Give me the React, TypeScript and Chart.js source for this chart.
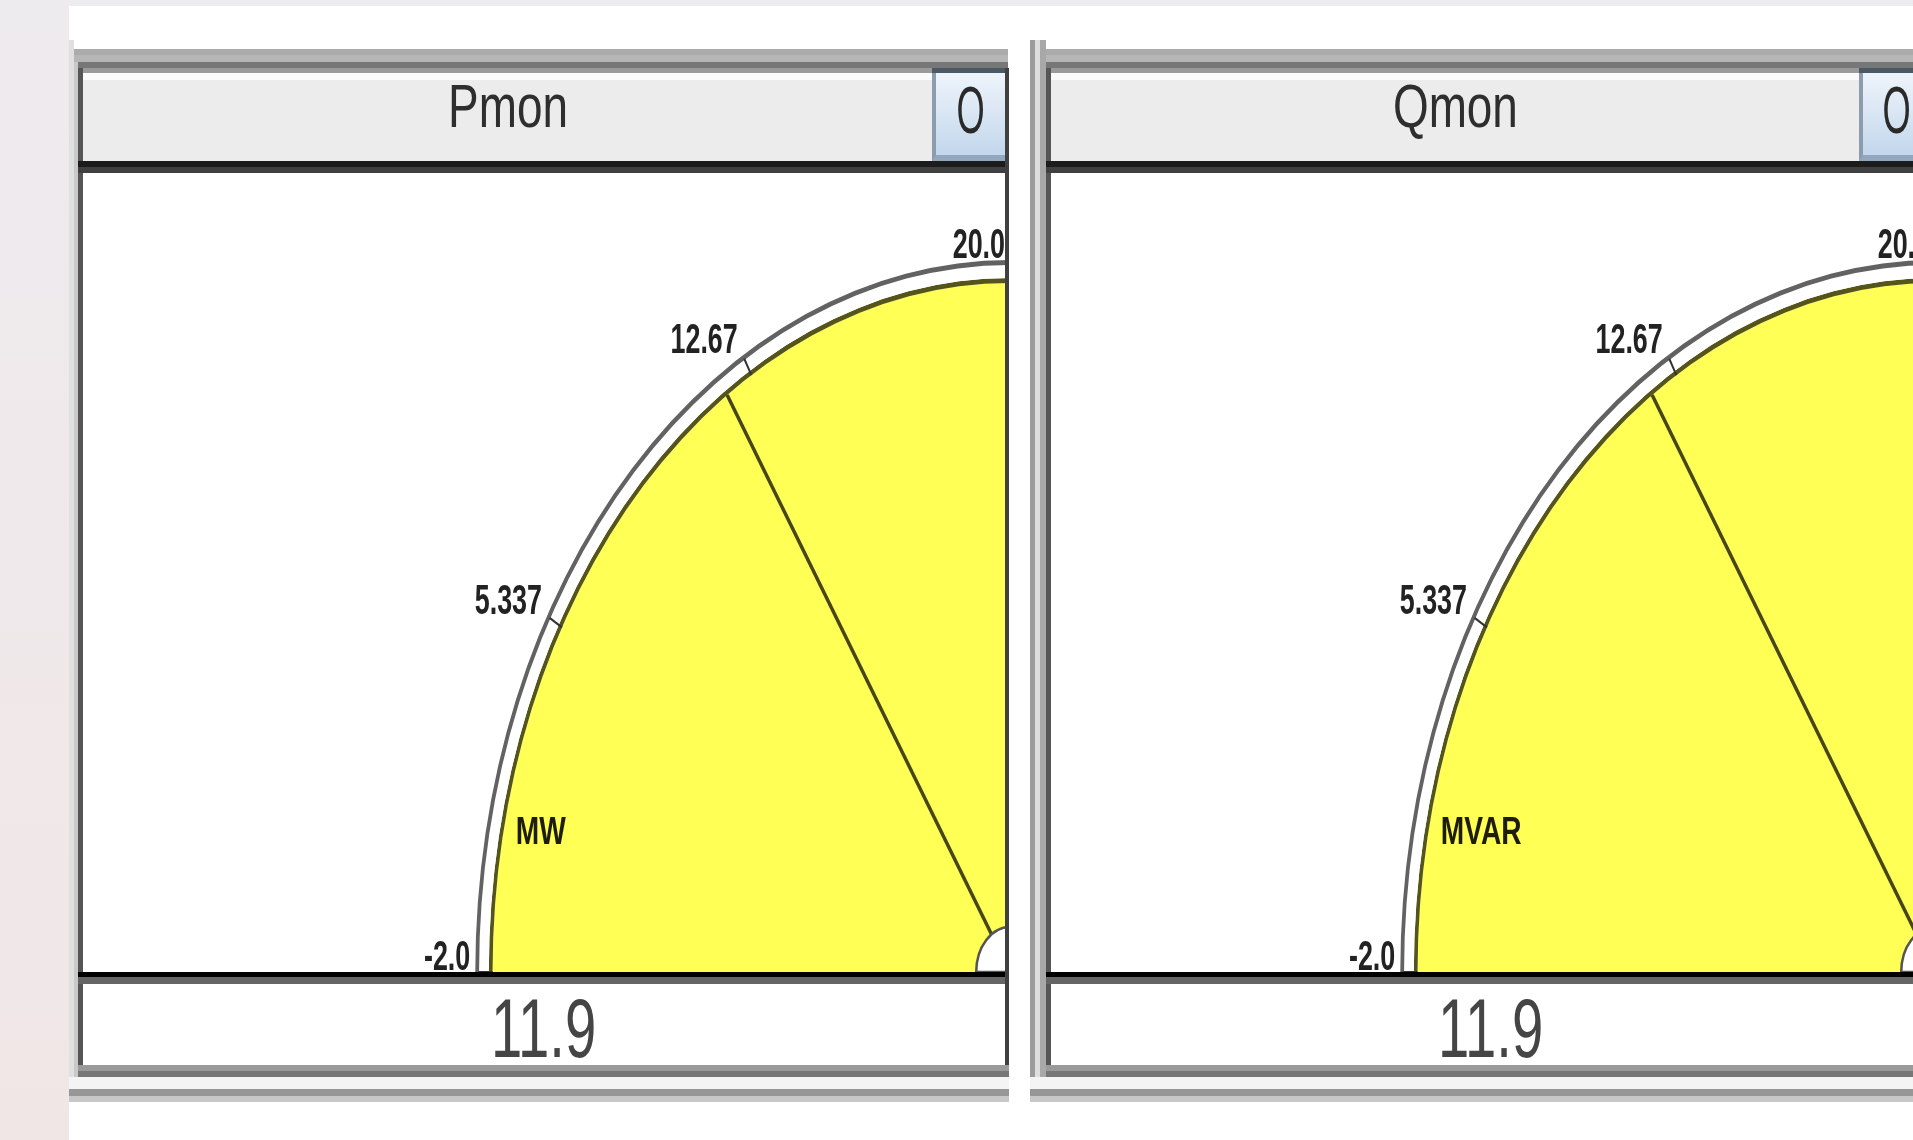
import React, { useEffect, useRef } from 'react';
import { Chart, registerables } from 'chart.js';

Chart.register(...registerables);

// ---------------- data ----------------
const PANEL_TITLES = ['Pmon', 'Qmon'];
const PANEL_UNITS = ['MW', 'MVAR'];
const PANEL_VALUES = [11.9, 11.9];
const VALUE_LABELS = ['11.9', '11.9'];
const BUTTON_LABELS = ['O', 'O'];
const GAUGE_MIN = -2.0;
const GAUGE_MAX = 42.0;
const TICK_VALUES = [-2.0, 5.337, 12.67, 20.0, 27.33, 34.67, 42.0];
const TICK_LABELS = ['-2.0', '5.337', '12.67', '20.0', '27.33', '34.67', '42.0'];

// ---------------- geometry (layout only) ----------------
const SX = 0.751; // horizontal squeeze of the gauge face
const CANVAS_W = 1440;
const CANVAS_H = 799;
const PANELS = [
  { border: 78, left: 83, right: 1005, button: 932, cx: 1010, frameLeft: 69 },
  { border: 1046, left: 1051, right: 1930, button: 1859, cx: 1935, frameLeft: 1030 },
];

const gaugePlugin: any = {
  id: 'gaugeDecor',
  beforeDatasetsDraw(chart: any) {
    const a = chart.getDatasetMeta(0).data[0];
    const ctx = chart.ctx;
    ctx.save();
    ctx.translate(a.x, a.y);
    ctx.scale(SX, 1);
    ctx.translate(-a.x, -a.y);
  },
  afterDatasetsDraw(chart: any, _args: any, opts: any) {
    const ctx = chart.ctx;
    ctx.restore();
    const a = chart.getDatasetMeta(0).data[0];
    const face = chart.getDatasetMeta(3).data[0];
    const cx = a.x;
    const cy = a.y;
    const rOut = a.outerRadius;
    const rFace = face.outerRadius;
    const ang = (v: number) => ((v - GAUGE_MIN) / (GAUGE_MAX - GAUGE_MIN)) * Math.PI;
    const pt = (v: number, r: number) => {
      const t = ang(v);
      return [cx - SX * r * Math.cos(t), cy - r * Math.sin(t)];
    };
    ctx.save();
    // tick marks (across the white gap only)
    ctx.strokeStyle = '#333333';
    ctx.lineWidth = 2;
    TICK_VALUES.forEach((v) => {
      const [x1, y1] = pt(v, rFace);
      const [x2, y2] = pt(v, rOut - 4);
      ctx.beginPath();
      ctx.moveTo(x1, y1);
      ctx.lineTo(x2, y2);
      ctx.stroke();
    });
    // tick labels
    ctx.fillStyle = '#222222';
    ctx.font = 'bold 42px "Liberation Sans", Arial, sans-serif';
    ctx.textAlign = 'right';
    ctx.textBaseline = 'alphabetic';
    TICK_VALUES.forEach((v, i) => {
      const [x, y] = pt(v, rOut);
      ctx.save();
      ctx.translate(x - 5, y - 2);
      ctx.scale(0.64, 1);
      ctx.fillText(TICK_LABELS[i], 0, 0);
      ctx.restore();
    });
    // unit
    ctx.save();
    ctx.fillStyle = '#1e1e08';
    ctx.font = 'bold 38px "Liberation Sans", Arial, sans-serif';
    ctx.textAlign = 'left';
    ctx.translate(cx - SX * rFace * 0.955, cy - rFace * 0.186);
    ctx.scale(0.74, 1);
    ctx.fillText(opts.unit, 0, 0);
    ctx.restore();
    // needle
    const [nx, ny] = pt(opts.value, rFace);
    ctx.strokeStyle = '#46461a';
    ctx.lineWidth = 3.5;
    ctx.beginPath();
    ctx.moveTo(cx, cy);
    ctx.lineTo(nx, ny);
    ctx.stroke();
    // hub
    ctx.beginPath();
    ctx.ellipse(cx, cy, 45 * SX, 45, 0, Math.PI, 2 * Math.PI);
    ctx.closePath();
    ctx.fillStyle = '#ffffff';
    ctx.fill();
    ctx.strokeStyle = '#555555';
    ctx.lineWidth = 2.5;
    ctx.stroke();
    ctx.restore();
  },
};

function Gauge({ value, unit, left }: { value: number; unit: string; left: number }) {
  const ref = useRef<HTMLCanvasElement>(null);
  useEffect(() => {
    const canvas = ref.current;
    if (!canvas) return;
    const span = GAUGE_MAX - GAUGE_MIN;
    const rings = [
      { color: '#626262', weight: 5 },
      { color: '#ffffff', weight: 13 },
      { color: '#55551a', weight: 5 },
      { color: '#ffff55', weight: 689 },
    ];
    const chart = new Chart(canvas, {
      type: 'doughnut',
      data: {
        labels: ['range'],
        datasets: rings.map((r) => ({
          data: [span],
          backgroundColor: [r.color],
          weight: r.weight,
          borderWidth: 0,
          hoverBorderWidth: 0,
          hoverOffset: 0,
        })) as any,
      },
      options: {
        responsive: false,
        animation: false,
        devicePixelRatio: 1,
        events: [],
        rotation: -90,
        circumference: 180,
        cutout: 0,
        layout: { padding: { top: 87, left: 0, right: 0, bottom: 0 } },
        plugins: {
          legend: { display: false },
          tooltip: { enabled: false },
          gaugeDecor: { value, unit },
        } as any,
      } as any,
      plugins: [gaugePlugin],
    });
    return () => chart.destroy();
  }, [value, unit]);
  return (
    <canvas
      ref={ref}
      width={CANVAS_W}
      height={CANVAS_H}
      style={{ position: 'absolute', left, top: 0, width: CANVAS_W, height: CANVAS_H }}
    />
  );
}

const Box = ({ x, y, w, h, bg }: { x: number; y: number; w: number; h: number; bg: string }) => (
  <div style={{ position: 'absolute', left: x, top: y, width: w, height: h, background: bg }} />
);

function Panel({ idx }: { idx: number }) {
  const p = PANELS[idx];
  const W = p.right - p.left;
  const titleW = p.button - p.left;
  const font = '"Liberation Sans", Arial, sans-serif';
  return (
    <>
      {/* outer frame top */}
      <Box x={p.frameLeft + 5} y={49} w={p.right + 3 - p.frameLeft - 5} h={6} bg="#ababab" />
      <Box x={p.frameLeft + 5} y={55} w={p.right + 3 - p.frameLeft - 5} h={7} bg="#b6b6b6" />
      <Box x={p.frameLeft + 5} y={62} w={p.right + 3 - p.frameLeft - 5} h={6} bg="#777777" />
      {/* outer frame left */}
      {idx === 0 ? (
        <>
          <Box x={69} y={40} w={5} h={1062} bg="#e0e0e0" />
          <Box x={74} y={62} w={4} h={1015} bg="#c9c9c9" />
        </>
      ) : (
        <>
          <Box x={1030} y={40} w={5} h={1062} bg="#9c9c9c" />
          <Box x={1035} y={40} w={5} h={1062} bg="#dedede" />
          <Box x={1040} y={40} w={6} h={1062} bg="#a8a8a8" />
        </>
      )}
      {/* inner border left / right */}
      <Box x={p.border} y={68} w={5} h={1003} bg="#555555" />
      <Box x={p.right} y={68} w={4} h={1003} bg="#404040" />
      {/* title bar */}
      <Box x={p.left} y={68} w={titleW} h={5} bg="#9a9a9a" />
      <Box x={p.left} y={73} w={titleW} h={7} bg="#fafafa" />
      <Box x={p.left} y={80} w={titleW} h={81} bg="#ececec" />
      <div
        style={{
          position: 'absolute',
          left: p.left,
          top: 75,
          width: titleW,
          height: 70,
          lineHeight: '62px',
          textAlign: 'center',
          fontFamily: font,
          fontSize: 62,
          color: '#2e2e2e',
          whiteSpace: 'nowrap',
        }}
      >
        <span style={{ display: 'inline-block', transform: 'scaleX(0.74)' }}>{PANEL_TITLES[idx]}</span>
      </div>
      {/* button */}
      <Box x={p.button} y={68} w={p.right - p.button} h={5} bg="#4b5866" />
      <div
        style={{
          position: 'absolute',
          left: p.button,
          top: 73,
          width: p.right - p.button,
          height: 88,
          background: 'linear-gradient(#eef4fb, #d4e3f2 60%, #c2d6ec)',
          borderLeft: '4px solid #8d9cac',
          boxSizing: 'border-box',
          borderBottom: '6px solid #93a8be',
        }}
      />
      <div
        style={{
          position: 'absolute',
          left: p.button + 2,
          top: 74,
          width: p.right - p.button,
          height: 80,
          lineHeight: '72px',
          textAlign: 'center',
          fontFamily: font,
          fontSize: 66,
          color: '#2a2a2a',
        }}
      >
        <span style={{ display: 'inline-block', transform: 'scaleX(0.55)' }}>{BUTTON_LABELS[idx]}</span>
      </div>
      <Box x={p.border} y={161} w={W + 5} h={6} bg="#1c1c1c" />
      <Box x={p.border} y={167} w={W + 5} h={6} bg="#404040" />
      {/* plot area */}
      <div
        style={{ position: 'absolute', left: p.left, top: 173, width: W, height: 799, overflow: 'hidden', background: '#ffffff' }}
      >
        <Gauge value={PANEL_VALUES[idx]} unit={PANEL_UNITS[idx]} left={p.cx - CANVAS_W / 2 - p.left} />
      </div>
      {/* value box */}
      <Box x={p.border} y={972} w={W + 5} h={5} bg="#000000" />
      <Box x={p.border} y={977} w={W + 5} h={7} bg="#666666" />
      <div
        style={{
          position: 'absolute',
          left: p.left,
          top: 986,
          width: W,
          height: 79,
          lineHeight: '84px',
          textAlign: 'center',
          fontFamily: font,
          fontSize: 84,
          color: '#454545',
          whiteSpace: 'nowrap',
          overflow: 'hidden',
        }}
      >
        <span style={{ display: 'inline-block', transform: 'scaleX(0.67)' }}>{VALUE_LABELS[idx]}</span>
      </div>
      {/* frame bottom */}
      <Box x={p.border} y={1065} w={W + 9} h={6} bg="#9a9a9a" />
      <Box x={p.border} y={1071} w={W + 9} h={6} bg="#777777" />
      <Box x={p.frameLeft} y={1077} w={W + 18} h={12} bg="#f4f4f4" />
      <Box x={p.frameLeft} y={1089} w={W + 18} h={7} bg="#979797" />
      <Box x={p.frameLeft} y={1096} w={W + 18} h={6} bg="#c8c8c8" />
    </>
  );
}

export default function App() {
  useEffect(() => {
    document.body.style.margin = '0';
  }, []);
  return (
    <div
      style={{
        position: 'fixed',
        left: 0,
        top: 0,
        width: 1913,
        height: 1140,
        overflow: 'hidden',
        background: '#ffffff',
      }}
    >
      <div
        style={{
          position: 'absolute',
          left: 0,
          top: 0,
          width: 69,
          height: 1140,
          background: 'linear-gradient(#eeebee, #f0e6e6)',
        }}
      />
      <Box x={69} y={0} w={1844} h={6} bg="#ecebee" />
      <Panel idx={0} />
      <Panel idx={1} />
    </div>
  );
}
